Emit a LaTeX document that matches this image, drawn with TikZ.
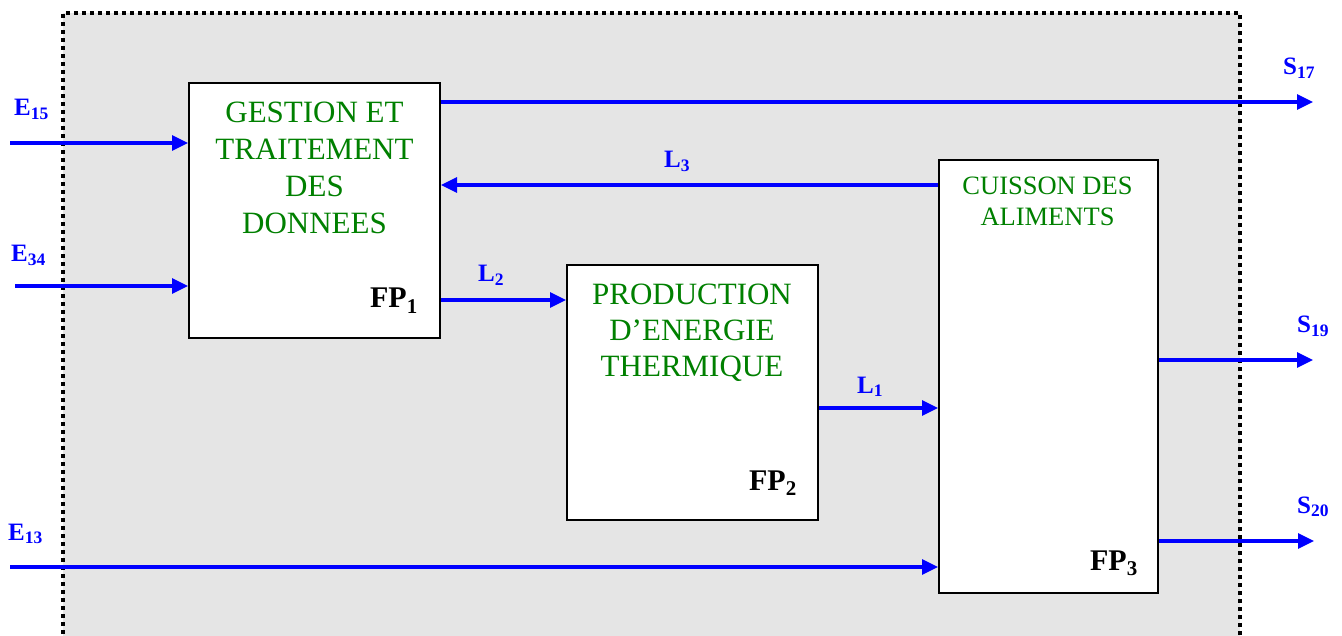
\documentclass[tikz,border=0pt]{standalone}
\usepackage{fontspec}
\setmainfont{Liberation Serif}
\usetikzlibrary{arrows.meta}
\definecolor{flowblue}{RGB}{0,0,255}
\definecolor{fpgreen}{RGB}{0,128,0}
\definecolor{bggray}{RGB}{229,229,229}
\tikzset{
  fbox/.style={draw=black, line width=2pt, fill=white, inner sep=0pt},
  arr/.style={draw=flowblue, line width=3.1pt, -{Triangle[length=16pt,width=15pt]}},
  flab/.style={text=flowblue, anchor=base west, inner sep=0pt, font=\fontsize{25}{25}\selectfont\bfseries},
  fplab/.style={anchor=base east, inner sep=0pt, font=\fontsize{30}{30}\selectfont\bfseries},
  gtext/.style={text=fpgreen, anchor=north, inner sep=0pt, align=center},
}
\begin{document}
\begin{tikzpicture}[x=1pt,y=-1pt]
\useasboundingbox (0,0) rectangle (1342,636);
\clip (0,0) rectangle (1342,636);
% background and dotted frame
\fill[bggray] (63,13) rectangle (1240,650);
\draw[line width=4pt, dash pattern=on 4pt off 4pt] (63,650) -- (63,13) -- (1240,13) -- (1240,650);
% boxes
\node[fbox, minimum width=251pt, minimum height=255pt] (fp1) at (314.5,210.5) {};
\node[fbox, minimum width=251pt, minimum height=255pt] (fp2) at (692.5,392.5) {};
\node[fbox, minimum width=219pt, minimum height=433pt] (fp3) at (1048.5,376.5) {};
% box texts
\node[gtext, font=\fontsize{31}{37}\selectfont] (t1) at (314.5,102) {GESTION ET\\TRAITEMENT\\DES\\DONNEES};
\node[gtext, font=\fontsize{31}{36}\selectfont] (t2) at (692,284) {PRODUCTION\\D’ENERGIE\\THERMIQUE};
\node[gtext, font=\fontsize{26.5}{31}\selectfont] (t3) at (1047.5,177) {CUISSON DES\\ALIMENTS};
\node[fplab] (f1) at (418,308) {FP\textsubscript{1}};
\node[fplab] (f2) at (797,490) {FP\textsubscript{2}};
\node[fplab] (f3) at (1138,570) {FP\textsubscript{3}};
% free ends
\coordinate (e15) at (10,143);
\coordinate (e34) at (15,286);
\coordinate (e13) at (10,567);
\coordinate (s17) at (1313,102);
\coordinate (s19) at (1313,360);
\coordinate (s20) at (1314,541);
\coordinate (l3y) at (0,185);
\coordinate (l2y) at (0,300);
\coordinate (l1y) at (0,408);
% connectors
\draw[arr] (e15) -- (e15 -| fp1.west);
\draw[arr] (e34) -- (e34 -| fp1.west);
\draw[arr] (e13) -- (e13 -| fp3.west);
\draw[arr] (s17 -| fp1.east) -- (s17);
\draw[arr] (fp3.west |- l3y) -- (fp1.east |- l3y);
\draw[arr] (fp1.east |- l2y) -- (fp2.west |- l2y);
\draw[arr] (fp2.east |- l1y) -- (fp3.west |- l1y);
\draw[arr] (s19 -| fp3.east) -- (s19);
\draw[arr] (s20 -| fp3.east) -- (s20);
% flow labels
\node[flab] (le15) at (14,116) {E\textsubscript{15}};
\node[flab] (le34) at (11,262) {E\textsubscript{34}};
\node[flab] (le13) at (8,540) {E\textsubscript{13}};
\node[flab] (ls17) at (1283,75) {S\textsubscript{17}};
\node[flab] (ls19) at (1297,333) {S\textsubscript{19}};
\node[flab] (ls20) at (1297,513) {S\textsubscript{20}};
\node[flab] (ll3) at (664,168) {L\textsubscript{3}};
\node[flab] (ll2) at (478,282) {L\textsubscript{2}};
\node[flab] (ll1) at (857,393) {L\textsubscript{1}};
\end{tikzpicture}
\end{document}
